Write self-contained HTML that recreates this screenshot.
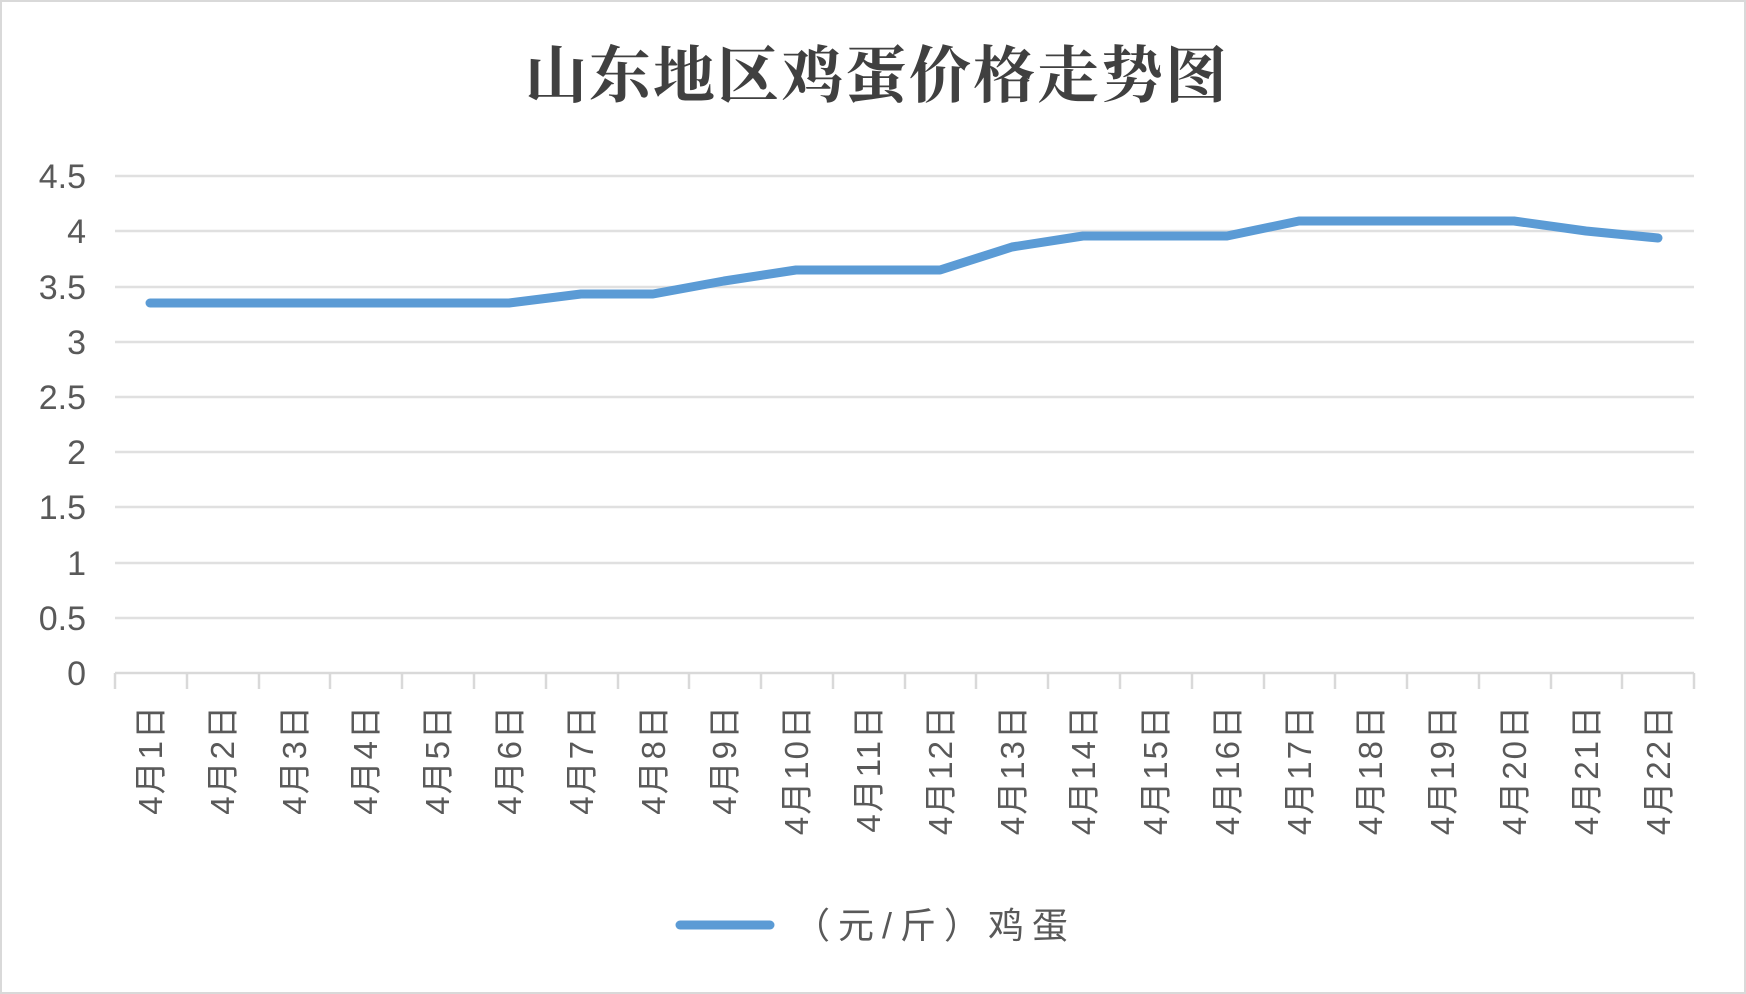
<!DOCTYPE html>
<html><head><meta charset="utf-8"><style>
body{margin:0;background:#fff}
svg{display:block}
</style></head><body>
<svg width="1746" height="994" viewBox="0 0 1746 994" xmlns="http://www.w3.org/2000/svg">
<rect x="1" y="1" width="1744" height="992" fill="#fff" stroke="#d9d9d9" stroke-width="2"/>
<text x="877" y="97" text-anchor="middle" font-family="'Liberation Serif','Noto Serif CJK SC',serif" font-weight="bold" font-size="62" letter-spacing="2" fill="#404040">山东地区鸡蛋价格走势图</text>
<g stroke="#e0e0e0" stroke-width="2.5">
<line x1="115" x2="1694" y1="176" y2="176"/><line x1="115" x2="1694" y1="231" y2="231"/>
<line x1="115" x2="1694" y1="287" y2="287"/><line x1="115" x2="1694" y1="342" y2="342"/>
<line x1="115" x2="1694" y1="397" y2="397"/><line x1="115" x2="1694" y1="452" y2="452"/>
<line x1="115" x2="1694" y1="507" y2="507"/><line x1="115" x2="1694" y1="563" y2="563"/>
<line x1="115" x2="1694" y1="618" y2="618"/>
</g>
<g stroke="#d9d9d9" stroke-width="2.5">
<line x1="115" x2="1694" y1="673" y2="673"/>
<path d="M115 673v16M187 673v16M259 673v16M330 673v16M402 673v16M474 673v16M546 673v16M618 673v16M689 673v16M761 673v16M833 673v16M905 673v16M976 673v16M1048 673v16M1120 673v16M1192 673v16M1264 673v16M1335 673v16M1407 673v16M1479 673v16M1551 673v16M1622 673v16M1694 673v16"/>
</g>
<g font-family="'Liberation Sans',sans-serif" font-size="34" fill="#595959" text-anchor="end">
<text x="86" y="188">4.5</text><text x="86" y="243">4</text><text x="86" y="299">3.5</text>
<text x="86" y="354">3</text><text x="86" y="409">2.5</text><text x="86" y="464">2</text>
<text x="86" y="519">1.5</text><text x="86" y="575">1</text><text x="86" y="630">0.5</text><text x="86" y="685">0</text>
</g>
<polyline fill="none" stroke="#5b9bd5" stroke-width="9" stroke-linecap="round" stroke-linejoin="round"
points="150,303 222,303 294,303 365,303 437,303 509,303 581,294 653,294 724,281 796,270 868,270 940,270 1012,247 1083,236 1155,236 1227,236 1299,221 1370,221 1442,221 1514,221 1586,231 1658,238"/>
<g font-family="'Liberation Sans','Noto Sans CJK SC',sans-serif" font-size="33" letter-spacing="2" fill="#595959" text-anchor="end">
<text transform="translate(162,704) rotate(-90)">4月1日</text>
<text transform="translate(234,704) rotate(-90)">4月2日</text>
<text transform="translate(306,704) rotate(-90)">4月3日</text>
<text transform="translate(377,704) rotate(-90)">4月4日</text>
<text transform="translate(449,704) rotate(-90)">4月5日</text>
<text transform="translate(521,704) rotate(-90)">4月6日</text>
<text transform="translate(593,704) rotate(-90)">4月7日</text>
<text transform="translate(665,704) rotate(-90)">4月8日</text>
<text transform="translate(736,704) rotate(-90)">4月9日</text>
<text transform="translate(808,704) rotate(-90)">4月10日</text>
<text transform="translate(880,704) rotate(-90)">4月11日</text>
<text transform="translate(952,704) rotate(-90)">4月12日</text>
<text transform="translate(1024,704) rotate(-90)">4月13日</text>
<text transform="translate(1095,704) rotate(-90)">4月14日</text>
<text transform="translate(1167,704) rotate(-90)">4月15日</text>
<text transform="translate(1239,704) rotate(-90)">4月16日</text>
<text transform="translate(1311,704) rotate(-90)">4月17日</text>
<text transform="translate(1382,704) rotate(-90)">4月18日</text>
<text transform="translate(1454,704) rotate(-90)">4月19日</text>
<text transform="translate(1526,704) rotate(-90)">4月20日</text>
<text transform="translate(1598,704) rotate(-90)">4月21日</text>
<text transform="translate(1670,704) rotate(-90)">4月22日</text>
</g>
<line x1="680" x2="770" y1="925" y2="925" stroke="#5b9bd5" stroke-width="9" stroke-linecap="round"/>
<text x="794" y="938" font-family="'Liberation Sans','Noto Sans CJK SC',sans-serif" font-size="36" letter-spacing="8" fill="#595959">（元/斤）鸡蛋</text>
</svg>
</body></html>
